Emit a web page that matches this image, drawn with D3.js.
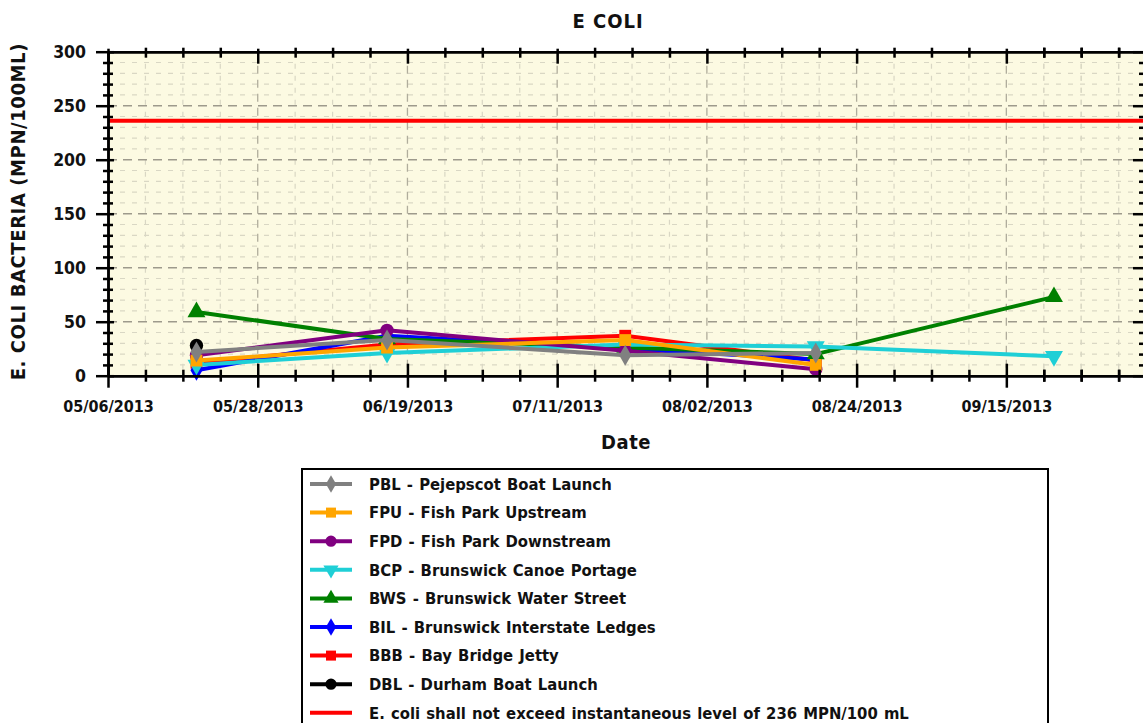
<!DOCTYPE html>
<html>
<head>
<meta charset="utf-8">
<script src="https://cdn.jsdelivr.net/npm/d3@7"></script>
<style>
  body { margin: 0; background: #fff; }
  text { font-family: "DejaVu Sans Condensed", "DejaVu Sans", sans-serif; font-weight: bold; fill: #111; }
</style>
</head>
<body>
<div id="graf"></div>
<script>
// fechas de muestreo
const fechas = ["2013-05-19", "2013-06-16", "2013-07-21", "2013-08-18", "2013-09-22"]

// valores por estacion (null = sin muestra)
const PBL = [22, 33, 19, 21, null]
const FPU = [14, 26, 33, 10, null]
const FPD = [19, 42, 23, 6, null]
const BCP = [10, 21, 29, 27, 18]
const BWS = [59, 34, 26, 20, 73]
const BIL = [5, 37, 25, 15, null]
const BBB = [12, 29, 37, 14, null]
const DBL = [28, null, null, null, null]

const codigos = ["PBL", "FPU", "FPD", "BCP", "BWS", "BIL", "BBB", "DBL"]
const nombres = [
  "PBL - Pejepscot Boat Launch",
  "FPU - Fish Park Upstream",
  "FPD - Fish Park Downstream",
  "BCP - Brunswick Canoe Portage",
  "BWS - Brunswick Water Street",
  "BIL - Brunswick Interstate Ledges",
  "BBB - Bay Bridge Jetty",
  "DBL - Durham Boat Launch",
]
const valores = [PBL, FPU, FPD, BCP, BWS, BIL, BBB, DBL]
const colores = ["#808080", "#ffa500", "#800080", "#1fcfd6", "#008000", "#0000ff", "#ff0000", "#000000"]
const simbolos = ["diamond", "square", "circle", "down", "up", "diamond", "square", "circle"]

// limite
const limite = 236
const limiteTexto = "E. coli shall not exceed instantaneous level of 236 MPN/100 mL"

// ejes
const xTicks = ["05/06/2013", "05/28/2013", "06/19/2013", "07/11/2013", "08/02/2013", "08/24/2013", "09/15/2013"]
const yTicks = [0, 50, 100, 150, 200, 250, 300]
const xInicio = "2013-05-06"
const xFin = "2013-10-05T09:00"

const anchoTotal = 1143
const altoTotal = 723
const margins = { top: 51.7, left: 108, right: -2, bottom: 347.3 }
const ancho = anchoTotal - margins.left - margins.right
const alto = altoTotal - margins.top - margins.bottom

const parse = d3.timeParse("%Y-%m-%d")
const parseT = d3.timeParse("%Y-%m-%dT%H:%M")
const parseTick = d3.timeParse("%m/%d/%Y")

const svg = d3.select("#graf").append("svg")
  .attr("width", anchoTotal)
  .attr("height", altoTotal)

const g = svg.append("g").attr("transform", `translate(${margins.left}, ${margins.top})`)

const x = d3.scaleTime()
  .domain([parse(xInicio), parseT(xFin)])
  .range([0, ancho])
const y = d3.scaleLinear()
  .domain([0, 300])
  .range([alto, 0])

// ticks menores
const majorX = xTicks.map(parseTick)
const minorX = []
majorX.forEach(d => {
  for (let k = 1; k < 4; k++) minorX.push(d3.timeHour.offset(d, k * 132))
})
d3.range(1, 5).forEach(k => minorX.push(d3.timeHour.offset(majorX[6], k * 132)))
majorX.push(d3.timeDay.offset(majorX[6], 22))
const minorXv = minorX.filter(d => x(d) < ancho)
const minorY = d3.range(10, 300, 10).filter(v => v % 50 != 0)

// fondo
g.append("rect")
  .attr("width", ancho)
  .attr("height", alto)
  .attr("fill", "#fcfae2")

// rejilla
g.selectAll(".gmx").data(minorXv).enter().append("line")
  .attr("x1", d => x(d)).attr("x2", d => x(d))
  .attr("y1", 0).attr("y2", alto)
  .attr("stroke", "#d9d7c4").attr("stroke-width", 1.2).attr("stroke-dasharray", "5,7")
g.selectAll(".gmy").data(minorY).enter().append("line")
  .attr("x1", 0).attr("x2", ancho)
  .attr("y1", d => y(d)).attr("y2", d => y(d))
  .attr("stroke", "#d9d7c4").attr("stroke-width", 1.2).attr("stroke-dasharray", "5,7")
g.selectAll(".gMx").data(majorX.slice(1).filter(d => x(d) < ancho)).enter().append("line")
  .attr("x1", d => x(d)).attr("x2", d => x(d))
  .attr("y1", 0).attr("y2", alto)
  .attr("stroke", "#b0ad9c").attr("stroke-width", 1.3).attr("stroke-dasharray", "8,6")
g.selectAll(".gMy").data(yTicks.slice(1, -1)).enter().append("line")
  .attr("x1", 0).attr("x2", ancho)
  .attr("y1", d => y(d)).attr("y2", d => y(d))
  .attr("stroke", "#9d9a8c").attr("stroke-width", 1.5).attr("stroke-dasharray", "9,6")

// linea limite
g.append("line")
  .attr("x1", 0).attr("x2", ancho)
  .attr("y1", y(limite)).attr("y2", y(limite))
  .attr("stroke", "#ff0000").attr("stroke-width", 4)

// simbolos
const tri = d3.symbol().type(d3.symbolTriangle)
function marca(tipo, s) {
  if (tipo == "diamond") return d3.symbol().type(d3.symbolDiamond).size(s * 0.9)()
  if (tipo == "square") return d3.symbol().type(d3.symbolSquare).size(s)()
  if (tipo == "circle") return d3.symbol().type(d3.symbolCircle).size(s)()
  return tri.size(s)()
}

// series (dibujar de ultima a primera)
const fechasP = fechas.map(parse)
for (let i = codigos.length - 1; i >= 0; i--) {
  const pts = valores[i].map((v, j) => ({ f: fechasP[j], v: v })).filter(d => d.v != null)
  const linea = d3.line().x(d => x(d.f)).y(d => y(d.v))
  g.append("path")
    .datum(pts)
    .attr("d", linea)
    .attr("fill", "none")
    .attr("stroke", colores[i])
    .attr("stroke-width", 4)
    .attr("stroke-linejoin", "round")
  g.selectAll(".m" + i).data(pts).enter().append("path")
    .attr("d", marca(simbolos[i], 140))
    .attr("transform", d => `translate(${x(d.f)}, ${y(d.v)})` + (simbolos[i] == "down" ? " rotate(180)" : ""))
    .attr("fill", colores[i])
}

// ejes
function cruzar(sel, adentro, afuera, vertical, signo) {
  sel.selectAll(".tick line").each(function () {
    const l = d3.select(this)
    if (vertical) l.attr("y1", -adentro * signo).attr("y2", afuera * signo)
    else l.attr("x1", adentro * signo).attr("x2", -afuera * signo)
  })
}
const fmt = d3.timeFormat("%m/%d/%Y")

const xAxis = g.append("g").attr("transform", `translate(0, ${alto})`)
  .call(d3.axisBottom(x).tickValues(majorX.slice(0, 7)).tickFormat(fmt).tickSizeOuter(0).tickPadding(19))
cruzar(xAxis, 12, 12, true, 1)
const xAxisM = g.append("g").attr("transform", `translate(0, ${alto})`)
  .call(d3.axisBottom(x).tickValues(minorXv).tickFormat("").tickSizeOuter(0))
cruzar(xAxisM, 6, 6, true, 1)

const xTop = g.append("g")
  .call(d3.axisTop(x).tickValues(majorX.slice(0, 7)).tickFormat("").tickSizeOuter(0))
cruzar(xTop, 12, 3, true, -1)
const xTopM = g.append("g")
  .call(d3.axisTop(x).tickValues(minorXv).tickFormat("").tickSizeOuter(0))
cruzar(xTopM, 6, 4, true, -1)

const yAxis = g.append("g")
  .call(d3.axisLeft(y).tickValues(yTicks).tickSizeOuter(0).tickPadding(16))
cruzar(yAxis, 6, 12, false, 1)
const yAxisM = g.append("g")
  .call(d3.axisLeft(y).tickValues(minorY).tickFormat("").tickSizeOuter(0))
cruzar(yAxisM, 5, 5, false, 1)

const yRight = g.append("g").attr("transform", `translate(${ancho}, 0)`)
  .call(d3.axisRight(y).tickValues(yTicks).tickFormat("").tickSizeOuter(0))
cruzar(yRight, 12, 6, false, -1)
const yRightM = g.append("g").attr("transform", `translate(${ancho}, 0)`)
  .call(d3.axisRight(y).tickValues(minorY).tickFormat("").tickSizeOuter(0))
cruzar(yRightM, 6, 5, false, -1)

g.selectAll(".domain").attr("stroke", "#000").attr("stroke-width", 2.5)
g.selectAll(".tick line").attr("stroke", "#000").attr("stroke-width", 2.5)
xAxis.selectAll("text").style("font-size", "16px").attr("fill", "#111")
yAxis.selectAll("text").style("font-size", "17.5px").attr("fill", "#111")

// titulos
svg.append("text")
  .attr("x", 608).attr("y", 28)
  .attr("text-anchor", "middle")
  .style("font-size", "20px")
  .style("letter-spacing", "1px")
  .text("E COLI")
svg.append("text")
  .attr("x", 626).attr("y", 449)
  .attr("text-anchor", "middle")
  .style("font-size", "20px")
  .style("letter-spacing", "0.5px")
  .text("Date")
svg.append("text")
  .attr("transform", `translate(25, ${margins.top + alto / 2 - 2}) rotate(-90)`)
  .attr("text-anchor", "middle")
  .style("font-size", "20px")
  .style("letter-spacing", "0.6px")
  .text("E. COLI BACTERIA (MPN/100ML)")

// leyenda
const leg = svg.append("g").attr("transform", "translate(302, 469)")
leg.append("rect")
  .attr("width", 746).attr("height", 262)
  .attr("fill", "#fff").attr("stroke", "#000").attr("stroke-width", 2)
const filas = nombres.concat([limiteTexto])
filas.forEach((t, i) => {
  const yy = 15 + i * 28.6
  const col = i < codigos.length ? colores[i] : "#ff0000"
  leg.append("line")
    .attr("x1", 8).attr("x2", 50).attr("y1", yy).attr("y2", yy)
    .attr("stroke", col).attr("stroke-width", 4)
  if (i < codigos.length) {
    leg.append("path")
      .attr("d", marca(simbolos[i], 100))
      .attr("transform", `translate(29, ${yy})` + (simbolos[i] == "down" ? " rotate(180)" : ""))
      .attr("fill", col)
  }
  leg.append("text")
    .attr("x", 67).attr("y", yy)
    .attr("dy", "0.35em")
    .style("font-size", "16.5px")
    .style("word-spacing", "1px")
    .text(t)
})
</script>
</body>
</html>
